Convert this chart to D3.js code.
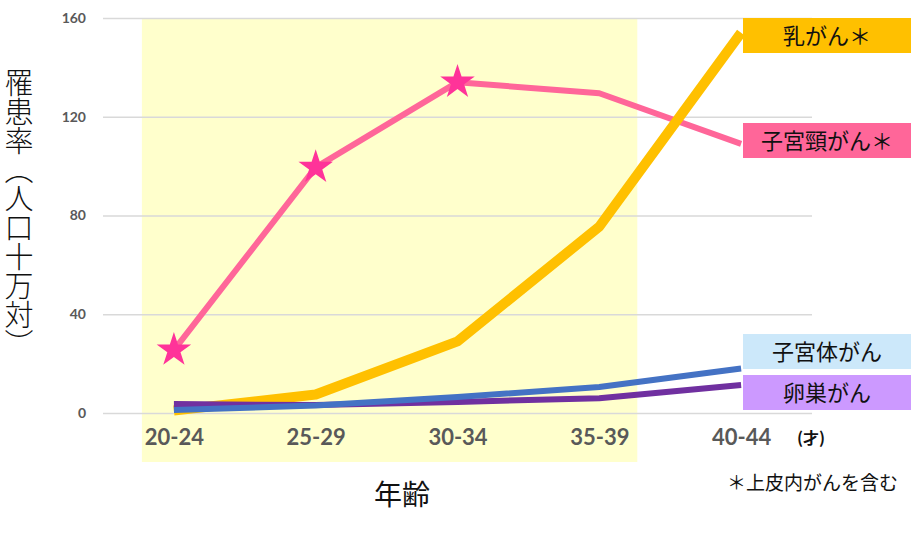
<!DOCTYPE html>
<html>
<head>
<meta charset="utf-8">
<script src="https://cdn.jsdelivr.net/npm/d3@7"></script>
<style>
  body { margin: 0; background: #fff; }
  svg { display: block; }
</style>
</head>
<body>
<div id="chart"></div>
<script>
// Data
const ageGroups = ["20-24", "25-29", "30-34", "35-39", "40-44"];
const yTicks = [0, 40, 80, 120, 160];
const cervical = [25.5, 99.5, 134, 129.5, 109];   // 子宮頸がん＊
const breast = [1, 7.5, 29, 75.5, 154];          // 乳がん＊
const uterine = [1.2, 3, 6.5, 10.5, 18];         // 子宮体がん
const ovarian = [3.6, 3.2, 4.5, 6, 11.3];        // 卵巣がん
const starGroups = ["20-24", "25-29", "30-34"];   // marked with stars
const highlighted = ["20-24", "35-39"];           // yellow band first/last

const seriesNames = ["子宮頸がん＊", "乳がん＊", "卵巣がん", "子宮体がん"];
const seriesValues = [cervical, breast, ovarian, uterine];
const seriesColors = ["#ff6699", "#ffc000", "#7030a0", "#4472c4"];
const seriesWidths = [6, 10, 6, 6];

// label boxes on the right
const labelNames = ["乳がん＊", "子宮頸がん＊", "子宮体がん", "卵巣がん"];
const labelFills = ["#ffc000", "#ff6699", "#cce8fa", "#cc99ff"];
const labelTops = [18, 123, 334, 375];

// Dimensions
let dimensions = {
  width: 911,
  height: 540,
  left: 103,
  right: 812,
  top: 18,
  bottom: 413,
};

const svg = d3
  .select("#chart")
  .append("svg")
  .attr("width", dimensions.width)
  .attr("height", dimensions.height);

const xScale = d3
  .scalePoint()
  .domain(ageGroups)
  .range([dimensions.left, dimensions.right])
  .padding(0.5);

const yScale = d3
  .scaleLinear()
  .domain([0, 160])
  .range([dimensions.bottom, dimensions.top]);

// yellow band behind 20-24 .. 35-39
svg
  .append("rect")
  .attr("x", xScale(highlighted[0]) - 32)
  .attr("y", yScale(160))
  .attr("width", xScale(highlighted[1]) - xScale(highlighted[0]) + 70)
  .attr("height", 462 - yScale(160))
  .attr("fill", "#ffffcc");

// Gridlines + y axis
const yAxis = d3
  .axisLeft(yScale)
  .tickValues(yTicks)
  .tickSize(-(dimensions.right - dimensions.left))
  .tickPadding(17);

const yAxisGroup = svg
  .append("g")
  .attr("transform", `translate(${dimensions.left}, 0)`)
  .call(yAxis);

yAxisGroup.select(".domain").remove();
yAxisGroup.selectAll("line").attr("stroke", "#d9d9d9").attr("stroke-width", 1.5);
yAxisGroup
  .selectAll("text")
  .attr("fill", "#595959")
  .style("font-family", "Lato, 'Open Sans', sans-serif")
  .style("font-weight", "bold")
  .style("font-size", "14px");

// x axis
const xAxis = d3.axisBottom(xScale).tickSize(0).tickPadding(16);
const xAxisGroup = svg
  .append("g")
  .attr("transform", `translate(0, ${dimensions.bottom})`)
  .call(xAxis);

xAxisGroup.select(".domain").remove();
xAxisGroup
  .selectAll("text")
  .attr("fill", "#595959")
  .style("font-family", "Lato, 'Open Sans', sans-serif")
  .style("font-weight", "bold")
  .style("font-size", "22px");

// Lines
const lineGenerator = d3
  .line()
  .x((d, i) => xScale(ageGroups[i]))
  .y((d) => yScale(d));

svg
  .selectAll("path.series")
  .data(seriesValues)
  .join("path")
  .attr("class", "series")
  .attr("d", lineGenerator)
  .attr("fill", "none")
  .attr("stroke", (d, i) => seriesColors[i])
  .attr("stroke-width", (d, i) => seriesWidths[i])
  .attr("stroke-linejoin", "round");

// Stars on cervical
const star = d3.symbol().type(d3.symbolStar).size(370);
svg
  .selectAll("path.star")
  .data(starGroups)
  .join("path")
  .attr("class", "star")
  .attr("d", star)
  .attr("fill", "#ff3399")
  .attr("transform", (d) => `translate(${xScale(d)}, ${yScale(cervical[ageGroups.indexOf(d)])})`);

// Label boxes
const labels = svg
  .selectAll("g.label")
  .data(labelNames)
  .join("g")
  .attr("class", "label")
  .attr("transform", (d, i) => `translate(743, ${labelTops[i]})`);

labels
  .append("rect")
  .attr("width", 168)
  .attr("height", 35)
  .attr("fill", (d, i) => labelFills[i]);

labels
  .append("text")
  .attr("x", 84)
  .attr("y", 18)
  .attr("dy", "0.35em")
  .attr("text-anchor", "middle")
  .style("font-family", "'Noto Sans CJK JP', sans-serif")
  .style("font-size", "22px")
  .attr("fill", "#111")
  .text((d) => d);

// Axis titles
svg
  .append("text")
  .attr("x", 19)
  .attr("y", 68)
  .style("writing-mode", "vertical-rl")
  .style("font-family", "'Noto Sans CJK JP', sans-serif")
  .style("font-size", "29px")
  .style("font-weight", "300")
  .attr("fill", "#111")
  .text("罹患率（人口十万対）");

svg
  .append("text")
  .attr("x", 402)
  .attr("y", 505)
  .attr("text-anchor", "middle")
  .style("font-family", "'Noto Sans CJK JP', sans-serif")
  .style("font-size", "28px")
  .attr("fill", "#111")
  .text("年齢");

svg
  .append("text")
  .attr("x", 797)
  .attr("y", 444)
  .style("font-family", "'Noto Sans CJK JP', sans-serif")
  .style("font-size", "16px")
  .style("font-weight", "bold")
  .attr("fill", "#111")
  .text("(才)");

svg
  .append("text")
  .attr("x", 727)
  .attr("y", 490)
  .style("font-family", "'Noto Sans CJK JP', sans-serif")
  .style("font-size", "19px")
  .attr("fill", "#111")
  .text("＊上皮内がんを含む");
</script>
</body>
</html>
